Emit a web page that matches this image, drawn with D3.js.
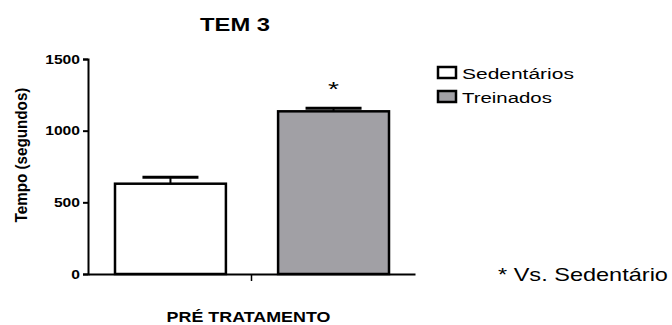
<!DOCTYPE html>
<html>
<head>
<meta charset="utf-8">
<script src="https://cdn.jsdelivr.net/npm/d3@7"></script>
<style>
  html, body { margin: 0; padding: 0; background: #fff; }
  svg { display: block; font-family: "Liberation Sans", Arial, sans-serif; }
</style>
</head>
<body>
<svg id="chart" width="672" height="325"></svg>
<script>
// Time in the test (seconds), mean and SEM for each group
const categories = ["PRÉ TRATAMENTO"];
const series = ["Sedentários", "Treinados"];
const means = [630, 1135];
const sems = [45, 22];
const significant = [false, true];
const yTicks = [0, 500, 1000, 1500];
const colors = ["#ffffff", "#a1a0a5"];

const svg = d3.select("#chart");
const FONT = "Liberation Sans, Arial, sans-serif";

// Widened text: glyphs scaled so the run spans `w` pixels.
// `rot` rotates the run, `sy` scales the glyph height in the run's own frame.
function wideText(parent, str, x, y, w, opts = {}) {
  const g = parent.append("g");
  const t = g.append("text")
    .attr("font-family", FONT)
    .attr("font-size", opts.size || 12)
    .attr("font-weight", opts.weight || "normal")
    .attr("fill", "#000")
    .attr("text-anchor", opts.anchor || "start")
    .text(str);
  const natural = t.node().getComputedTextLength();
  const sx = w / natural;
  g.attr("transform", `translate(${x},${y})` + (opts.rot ? ` rotate(${opts.rot})` : "") +
    ` scale(${sx},${opts.sy || 1})`);
  return g;
}

const y = d3.scaleLinear().domain([0, 1500]).range([274, 59]);
const xOuter = d3.scaleBand().domain(categories).range([88, 415]).padding(0);

// Grouped bars inside the single category
const x0 = xOuter(categories[0]);
const xInner = d3.scaleBand()
  .domain(series)
  .range([x0 + 27, x0 + xOuter.bandwidth() - 26])
  .paddingInner(0.32)
  .paddingOuter(0);

const rows = series.map((s, i) => ({ s, mean: means[i], sem: sems[i], sig: significant[i], color: colors[i] }));

// Bars
svg.append("g").selectAll("rect").data(rows).join("rect")
  .attr("x", d => xInner(d.s))
  .attr("y", d => y(d.mean))
  .attr("width", xInner.bandwidth())
  .attr("height", d => y(0) - y(d.mean))
  .attr("fill", d => d.color)
  .attr("stroke", "#000")
  .attr("stroke-width", 2.5);

// Upward error bars
const eb = svg.append("g").attr("stroke", "#000");
eb.selectAll("line.v").data(rows).join("line")
  .attr("class", "v")
  .attr("x1", d => xInner(d.s) + xInner.bandwidth() / 2)
  .attr("x2", d => xInner(d.s) + xInner.bandwidth() / 2)
  .attr("y1", d => y(d.mean))
  .attr("y2", d => y(d.mean + d.sem))
  .attr("stroke-width", 2);
eb.selectAll("line.cap").data(rows).join("line")
  .attr("class", "cap")
  .attr("x1", d => xInner(d.s) + xInner.bandwidth() / 2 - 28)
  .attr("x2", d => xInner(d.s) + xInner.bandwidth() / 2 + 28)
  .attr("y1", d => y(d.mean + d.sem))
  .attr("y2", d => y(d.mean + d.sem))
  .attr("stroke-width", 3);

// Significance marker
rows.filter(d => d.sig).forEach(d => {
  wideText(svg, "*", xInner(d.s) + xInner.bandwidth() / 2, y(d.mean + d.sem) - 12, 11,
    { size: 21, anchor: "middle" });
});

// Y axis (labels drawn widened below)
const yAxis = svg.append("g")
  .attr("transform", "translate(88,0)")
  .call(d3.axisLeft(y).tickValues(yTicks).tickSize(5).tickFormat(""));
yAxis.select(".domain").attr("stroke-width", 2);
yAxis.selectAll(".tick line").attr("stroke-width", 2);
yTicks.forEach(v => {
  wideText(svg, d3.format("d")(v), 80, y(v) + 4.5, String(v).length * 8.7,
    { size: 12.5, weight: "bold", anchor: "end" });
});

// X axis
const xAxis = svg.append("g")
  .attr("transform", "translate(0,274)")
  .call(d3.axisBottom(xOuter).tickSize(7).tickSizeOuter(0).tickFormat(""));
xAxis.select(".domain").attr("stroke-width", 2);
xAxis.selectAll(".tick line").attr("stroke-width", 1.5);

// Category label
wideText(svg, categories[0], x0 + xOuter.bandwidth() / 2 - 3, 321.5, 164,
  { size: 14.5, weight: "bold", anchor: "middle" });

// Title
wideText(svg, "TEM 3", 235, 31, 70, { size: 18, weight: "bold", anchor: "middle" });

// Y axis title
wideText(svg, "Tempo (segundos)", 27, 155, 135,
  { size: 14.5, weight: "bold", anchor: "middle", rot: -90, sy: 1.2 });

// Legend
const legendW = [112, 90];
const legend = svg.append("g").attr("transform", "translate(438,67)");
rows.forEach((d, i) => {
  legend.append("rect")
    .attr("y", i * 24)
    .attr("width", 18).attr("height", 11)
    .attr("fill", d.color)
    .attr("stroke", "#000").attr("stroke-width", 2.5);
  wideText(legend, d.s, 24, i * 24 + 12, legendW[i], { size: 15 });
});

// Footnote
wideText(svg, "* Vs. Sedentário", 498, 281, 170, { size: 18 });
</script>
</body>
</html>
